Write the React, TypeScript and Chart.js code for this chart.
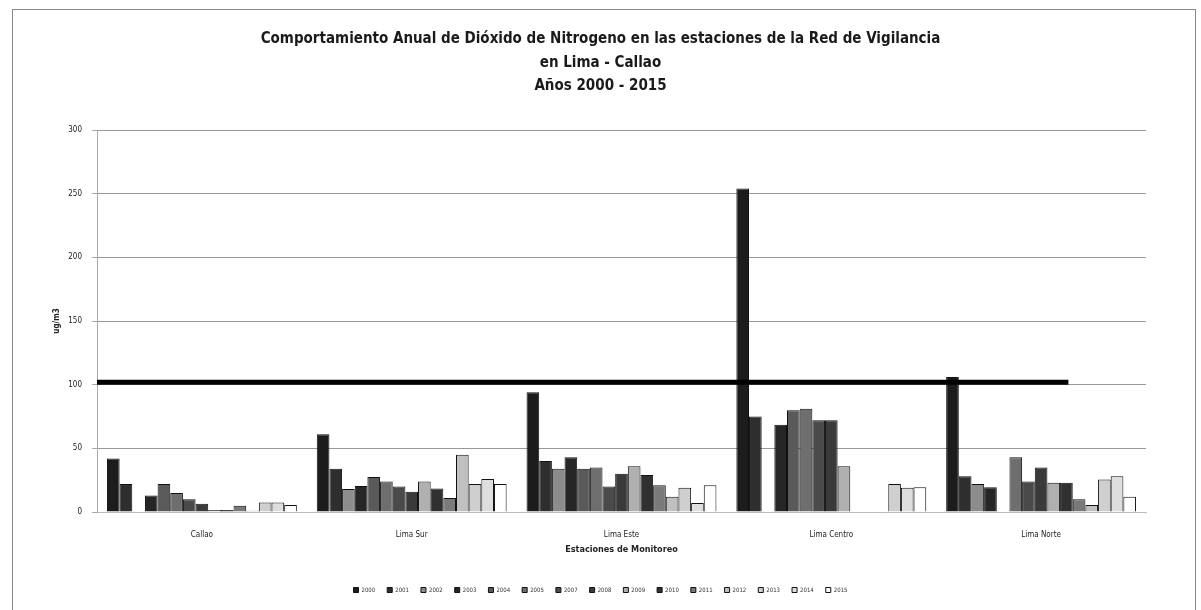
import React, { useEffect, useRef } from "react";
import { Chart, registerables } from "chart.js";

Chart.register(...registerables);

const TITLE_LINES = [
  "Comportamiento Anual de Dióxido de Nitrogeno en las estaciones de la Red de Vigilancia",
  "en Lima - Callao",
  "Años 2000 - 2015",
];

const STATIONS = ["Callao", "Lima Sur", "Lima Este", "Lima Centro", "Lima Norte"];

const YEARS = ["2000", "2001", "2002", "2003", "2004", "2005", "2007", "2008", "2009", "2010", "2011", "2012", "2013", "2014", "2015"];

// values per station, one per year in YEARS order (ug/m3)
const CALLAO = [42, 22, null, 13, 22, 15, 10, 6.5, 1.5, 1.5, 5, 1, 7.5, 7.5, 5.5];
const LIMA_SUR = [61, 34, 18, 20.5, 27.5, 24, 20, 16, 24, 18.5, 11, 45, 22, 26, 22];
const LIMA_ESTE = [94, 40, 34, 43, 34, 35, 20, 30, 36, 29, 21, 12, 19, 7, 21];
const LIMA_CENTRO = [254, 75, null, 68.5, 80, 81, 72, 72, 36, null, null, null, 22, 19, 19.5];
const LIMA_NORTE = [106, 28, 22, 19.5, null, 43, 24, 35, 23, 23, 10, 5.5, 25.5, 28, 12];

const STATION_VALUES = [CALLAO, LIMA_SUR, LIMA_ESTE, LIMA_CENTRO, LIMA_NORTE];

const YEAR_COLORS = [
  "#1c1c1c", "#2e2e2e", "#8c8c8c", "#262626", "#5a5a5a", "#6e6e6e", "#4a4a4a",
  "#3a3a3a", "#b0b0b0", "#303030", "#7a7a7a", "#c0c0c0", "#cfcfcf", "#dedede", "#ffffff",
];

// reference (limit) line: value and extent along the category axis
const LIMIT_VALUE = 102;
const LIMIT_X_START = -0.5;
const LIMIT_X_END = 4.13;

const Y_TICKS = [0, 50, 100, 150, 200, 250, 300];

const FONT = "'Liberation Sans Narrow', 'DejaVu Sans Condensed', 'Liberation Sans', sans-serif";

const limitLinePlugin = {
  id: "limitLine",
  afterDatasetsDraw(chart: any) {
    const { ctx, scales } = chart;
    const x = scales.x;
    const y = scales.y;
    const py = y.getPixelForValue(LIMIT_VALUE);
    const x0 = x.getPixelForValue(LIMIT_X_START);
    const x1 = x.getPixelForValue(LIMIT_X_END);
    ctx.save();
    ctx.strokeStyle = "#000";
    ctx.lineWidth = 5;
    ctx.beginPath();
    ctx.moveTo(x0, py);
    ctx.lineTo(x1, py);
    ctx.stroke();
    ctx.restore();
  },
};

export default function App() {
  const ref = useRef<HTMLCanvasElement | null>(null);

  useEffect(() => {
    if (!ref.current) return;
    const barSets: any[] = YEARS.map((y, i) => ({
      label: y,
      data: STATION_VALUES.map((s) => s[i]),
      backgroundColor: YEAR_COLORS[i],
      borderColor: "#111",
      borderWidth: 1,
    }));
    const chart = new Chart(ref.current, {
      type: "bar",
      data: { labels: STATIONS, datasets: barSets },
      plugins: [limitLinePlugin],
      options: {
        animation: false,
        responsive: false,
        maintainAspectRatio: false,
        layout: { padding: { left: 0, right: 0, top: 0, bottom: 7 } },
        datasets: { bar: { categoryPercentage: 0.905, barPercentage: 1 } },
        plugins: {
          tooltip: { enabled: false },
          title: {
            display: true,
            text: TITLE_LINES,
            color: "#1a1a1a",
            font: { family: FONT, size: 15, weight: "bold", lineHeight: 1.567 },
            padding: { top: 27.75, bottom: 31.75 },
          },
          legend: {
            position: "bottom",
            labels: {
              boxWidth: 5,
              boxHeight: 5,
              padding: 12,
              color: "#333",
              font: { family: FONT, size: 6 },
            },
          },
        },
        scales: {
          x: {
            type: "category",
            offset: true,
            grid: { display: false, drawTicks: false },
            border: { display: true, color: "#bbb" },
            ticks: { color: "#222", font: { family: FONT, size: 8 }, padding: 18 },
            title: {
              display: true,
              text: "Estaciones de Monitoreo",
              color: "#222",
              font: { family: FONT, size: 9, weight: "bold" },
              padding: { top: 0, bottom: 19.6 },
            },
            afterFit: (s: any) => {
              s.height = 63;
            },
          },
          y: {
            position: "left",
            min: 0,
            max: 300,
            afterBuildTicks: (s: any) => {
              s.ticks = Y_TICKS.map((v) => ({ value: v }));
            },
            grid: { color: "#999", lineWidth: 1, drawTicks: true, tickLength: 5, tickColor: "#aaa" },
            border: { display: true, color: "#aaa" },
            ticks: { color: "#222", font: { family: FONT, size: 8 }, padding: 10 },
            title: {
              display: true,
              text: "ug/m3",
              color: "#222",
              font: { family: FONT, size: 8, weight: "bold" },
              padding: { top: 52, bottom: 0 },
            },
            afterFit: (s: any) => {
              s.width = 97;
            },
          },
          yRight: {
            position: "right",
            display: true,
            grid: { display: false, drawTicks: false },
            border: { display: false },
            ticks: { display: false },
            afterFit: (s: any) => {
              s.width = 55;
            },
          },
        },
      } as any,
    });
    return () => chart.destroy();
  }, []);

  return (
    <div style={{ position: "absolute", left: 0, top: 0, width: 1201, height: 610, background: "#fff", overflow: "hidden" }}>
      <div
        style={{
          position: "absolute",
          left: 12,
          top: 9,
          width: 1184,
          height: 700,
          border: "1px solid #888",
          boxSizing: "border-box",
          pointerEvents: "none",
        }}
      />
      <canvas ref={ref} width={1201} height={610} style={{ position: "absolute", left: 0, top: 0, width: 1201, height: 610 }} />
    </div>
  );
}
